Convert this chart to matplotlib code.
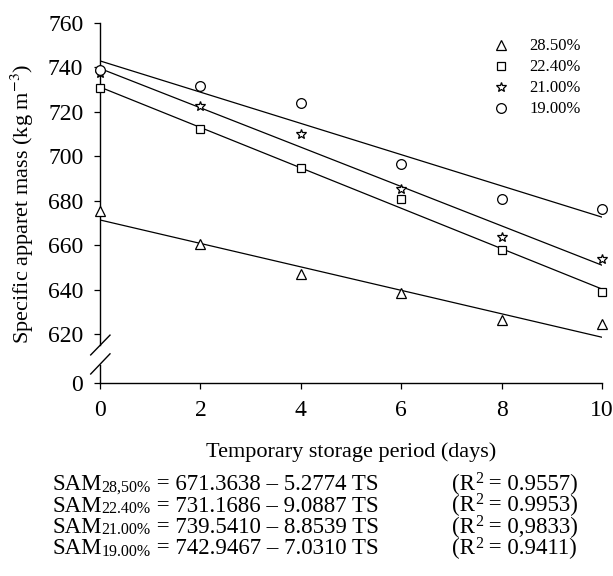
import matplotlib
matplotlib.use("Agg")
import matplotlib.pyplot as plt
import numpy as np

plt.rcParams['font.family'] = ['Liberation Serif', 'DejaVu Serif']
plt.rcParams['mathtext.fontset'] = 'stix'

# ---------------- data ----------------
days = [0, 2, 4, 6, 8, 10]
labels = ['28.50%', '22.40%', '21.00%', '19.00%']
sam_285 = [675.5, 660.5, 647.2, 638.3, 626.3, 624.5]
sam_224 = [730.6, 712.1, 694.6, 680.8, 657.8, 638.8]
sam_210 = [737.5, 722.6, 710.0, 685.3, 663.5, 653.9]
sam_190 = [738.8, 731.6, 724.1, 696.5, 680.6, 676.1]
intercepts = [671.3638, 731.1686, 739.5410, 742.9467]
slopes = [-5.2774, -9.0887, -8.8539, -7.0310]
r2_texts = ['0.9557', '0.9953', '0,9833', '0.9411']
sub_texts = ['28,50%', '22.40%', '21.00%', '19.00%']
yticks = [620, 640, 660, 680, 700, 720, 740, 760]
y_break_value = 598   # position shown as "0"
series = [sam_285, sam_224, sam_210, sam_190]
markers = ['^', 's', '*', 'o']
msizes = [7.5, 6.0, 7.5, 7.0]

W, H = 613, 576
fig = plt.figure(figsize=(W / 100, H / 100), dpi=100)
ax = fig.add_axes([100 / W, 1 - 383 / H, 502 / W, 360 / H])

x_line = np.array([0, 10])
for b0, b1 in zip(intercepts, slopes):
    ax.plot(x_line, b0 + b1 * x_line, color='black', lw=0.9, zorder=2)

for vals, m, ms, lab in zip(series, markers, msizes, labels):
    ax.plot(days, vals, linestyle='none', marker=m, ms=ms, mfc='white',
            mec='black', mew=0.9, label=lab, clip_on=False, zorder=3)

ax.set_xlim(0, 10)
ax.set_ylim(y_break_value, 760)
ax.set_xticks(days)
ax.set_xticklabels([str(d) for d in days])
ax.set_yticks([y_break_value] + yticks)
ax.set_yticklabels(['0'] + [str(t) for t in yticks])
ax.tick_params(axis='both', direction='out', length=4, width=0.9,
               labelsize=17, pad=8, colors='black')

for s in ['top', 'right', 'left']:
    ax.spines[s].set_visible(False)
ax.spines['bottom'].set_linewidth(1.0)

# broken left spine
kw = dict(transform=ax.transAxes, color='black', lw=1.0, clip_on=False)
ax.plot([0, 0], [1, 0.106], **kw)
ax.plot([0, 0], [0.05, 0], **kw)
ax.plot([-0.0185, 0.0199], [0.078, 0.133], **kw)
ax.plot([-0.0185, 0.0199], [0.025, 0.081], **kw)

leg = ax.legend(loc='upper left', bbox_to_anchor=(484 / W, 1 - 30 / H),
                bbox_transform=fig.transFigure, frameon=False,
                fontsize=12, handlelength=1.0, handletextpad=1.2,
                labelspacing=0.3, borderpad=0, numpoints=1)

fig.text(22 / W, 1 - 204 / H, 'Specific apparet mass (kg m$^{-3}$)',
         rotation=90, ha='center', va='center', fontsize=16)
fig.text(351 / W, 1 - 457 / H, 'Temporary storage period (days)',
         ha='center', va='baseline', fontsize=16)

renderer = fig.canvas.get_renderer()


def place_pieces(x_px, y_px, pieces):
    """pieces: list of (text, fontsize, dy_px); laid out left to right."""
    x = x_px
    for txt, fs, dy in pieces:
        t = fig.text(x / W, 1 - (y_px - dy) / H, txt, ha='left',
                     va='baseline', fontsize=fs)
        bb = t.get_window_extent(renderer=renderer)
        x += bb.width


main_fs, small_fs = 16.5, 11.5
for i, (b0, b1, sub, r2) in enumerate(zip(intercepts, slopes, sub_texts, r2_texts)):
    yb = 490 + 21.5 * i
    place_pieces(52, yb, [('SAM', main_fs, 0),
                          (sub, small_fs, -1.5),
                          (' = %.4f \u2013 %.4f TS' % (b0, -b1), main_fs, 0)])
    place_pieces(452, yb, [('(R', main_fs, 0),
                           ('2', small_fs, 7),
                           (' = %s)' % r2, main_fs, 0)])

fig.savefig('out.png', dpi=100, facecolor='white')
